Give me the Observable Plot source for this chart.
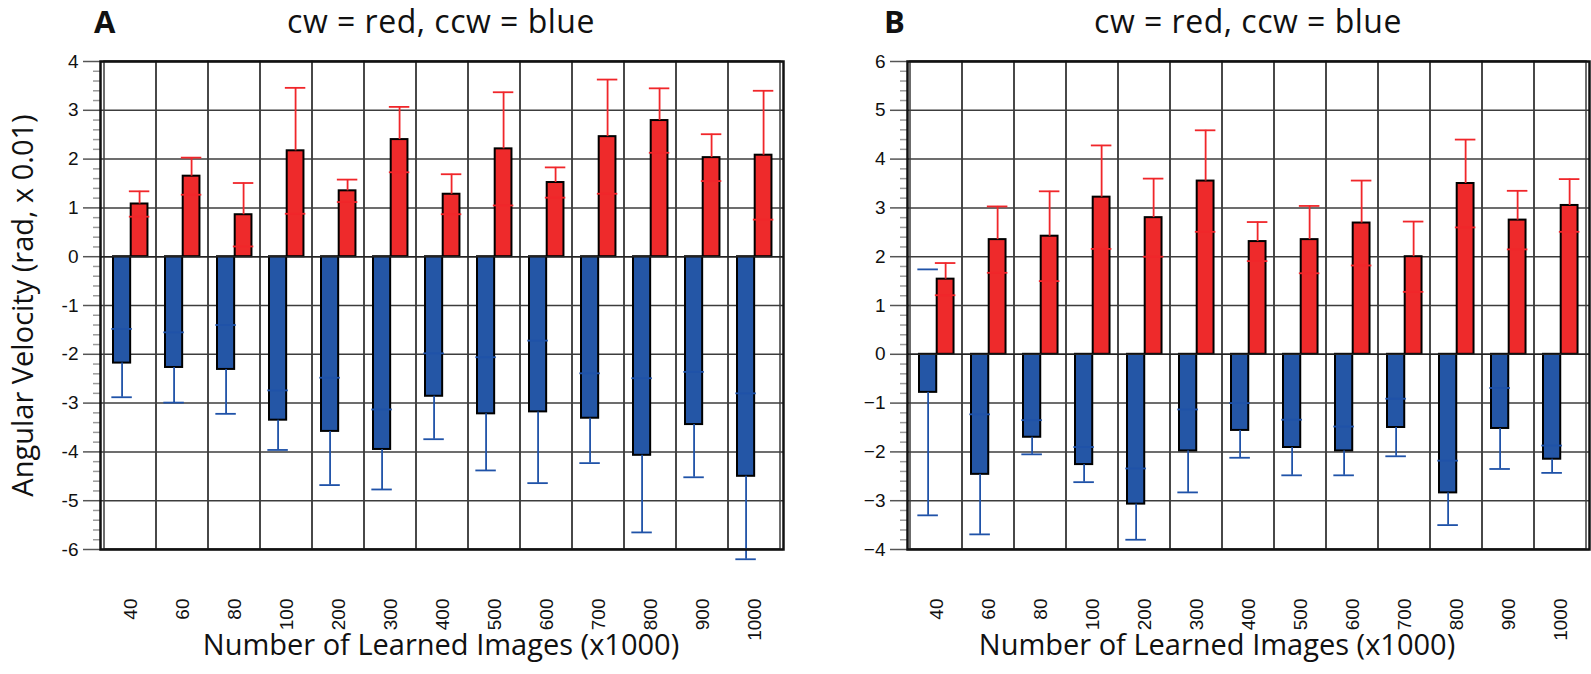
<!DOCTYPE html>
<html>
<head>
<meta charset="utf-8">
<script src="https://cdn.jsdelivr.net/npm/d3@7"></script>
<script src="https://cdn.jsdelivr.net/npm/@observablehq/plot@0.6"></script>
<style>
  body { margin: 0; background: #fff; }
  #wrap { position: relative; width: 1591px; height: 674px; overflow: hidden; background: #fff; }
  .panel { position: absolute; top: 0; }
  .txt { position: absolute; font-family: "Open Sans", "Noto Sans", sans-serif; font-size: 29px; line-height: 29px; white-space: nowrap; color: #111; }
  .letter { font-weight: bold; font-size: 31px; line-height: 31px; }
  .head { font-size: 32px; line-height: 32px; letter-spacing: 0.5px; }
  .center { text-align: center; }
  .rot { transform: rotate(-90deg); transform-origin: 50% 50%; }
</style>
</head>
<body>
<div id="wrap"></div>
<script>
// ---------------- data ----------------
const categories = ["40","60","80","100","200","300","400","500","600","700","800","900","1000"];

// Panel A (mean, SD)
const cwA     = [1.08, 1.65, 0.86, 2.17, 1.35, 2.40, 1.28, 2.21, 1.52, 2.46, 2.79, 2.03, 2.08];
const cwA_sd  = [0.26, 0.38, 0.65, 1.29, 0.23, 0.67, 0.41, 1.16, 0.31, 1.17, 0.66, 0.48, 1.32];
const ccwA    = [-2.18, -2.27, -2.31, -3.35, -3.58, -3.95, -2.86, -3.22, -3.18, -3.31, -4.07, -3.44, -4.50];
const ccwA_sd = [0.70, 0.72, 0.91, 0.61, 1.10, 0.82, 0.88, 1.16, 1.46, 0.92, 1.58, 1.08, 1.70];

// Panel B (mean, SD)
const cwB     = [1.54, 2.35, 2.42, 3.22, 2.80, 3.55, 2.31, 2.35, 2.69, 2.00, 3.50, 2.75, 3.05];
const cwB_sd  = [0.33, 0.68, 0.92, 1.06, 0.80, 1.04, 0.40, 0.69, 0.87, 0.72, 0.90, 0.60, 0.54];
const ccwB    = [-0.78, -2.46, -1.70, -2.26, -3.07, -1.98, -1.56, -1.91, -1.98, -1.50, -2.84, -1.52, -2.15];
const ccwB_sd = [2.52, 1.23, 0.35, 0.36, 0.73, 0.85, 0.56, 0.57, 0.50, 0.59, 0.66, 0.83, 0.28];

const yTicksA = [-6, -5, -4, -3, -2, -1, 0, 1, 2, 3, 4];
const yTicksB = [-4, -3, -2, -1, 0, 1, 2, 3, 4, 5, 6];

const titleText = "cw = red, ccw = blue";
const xTitle = "Number of Learned Images (x1000)";
const yTitle = "Angular Velocity (rad, x 0.01)";

// ---------------- drawing ----------------
const RED = "#EE2A2B", BLUE = "#2456A6", RED_ERR = "#F0262A", BLUE_ERR = "#1F52A8";
const GRID = "#3c3c3c";

function minorTicks(lo, hi) {
  const out = [];
  for (let k = Math.round(lo * 5); k <= Math.round(hi * 5); k++) if (k % 5 !== 0) out.push(k / 5);
  return out;
}

function makePanel(cw, cwSd, ccw, ccwSd, yTicks, opt) {
  const rows = categories.map((c, i) => ({cat: c, cw: cw[i], cwSd: cwSd[i], ccw: ccw[i], ccwSd: ccwSd[i]}));
  const bw = (opt.width - opt.marginLeft - opt.marginRight) / categories.length;
  const bL = 9, bM = 26.7, bR = 44;          // bar edges within a band (px)
  const blueC = (bL + bM) / 2, redC = (bM + bR) / 2, capHalf = 10.5;
  const lo = d3.min(yTicks), hi = d3.max(yTicks);
  return Plot.plot({
    width: opt.width,
    height: 674,
    marginLeft: opt.marginLeft,
    marginRight: opt.marginRight,
    marginTop: 61,
    marginBottom: 125,
    x: {type: "band", domain: categories, padding: 0},
    y: {domain: [lo, hi]},
    style: {fontFamily: "'Liberation Sans', Arial, sans-serif", fontSize: "19px", color: "#111", overflow: "visible", background: "transparent"},
    marks: [
      Plot.cell(categories, {x: d => d, fill: "none", stroke: GRID, strokeWidth: 1.5}),
      Plot.gridY({ticks: yTicks, stroke: GRID, strokeOpacity: 1, strokeWidth: 1.5}),
      Plot.axisY({ticks: minorTicks(lo, hi), tickSize: 7, tickFormat: () => "", stroke: "#9a9a9a", strokeWidth: 1.5, label: null}),
      Plot.axisY({ticks: yTicks, tickSize: 17, tickPadding: 5, tickFormat: opt.yFormat, stroke: "#555", strokeWidth: 1.5, label: null}),
      Plot.axisX({tickRotate: -90, textAnchor: "end", lineAnchor: "middle", tickSize: 0, tickPadding: 49, label: null}),
      // bars
      Plot.barY(rows, {x: "cat", y: "ccw", fill: BLUE, stroke: "#000", strokeWidth: 2, insetLeft: bL, insetRight: bw - bM}),
      Plot.barY(rows, {x: "cat", y: "cw", fill: RED, stroke: "#000", strokeWidth: 2, insetLeft: bM, insetRight: bw - bR}),
      // error bars (ccw)
      Plot.ruleX(rows, {x: "cat", y1: "ccw", y2: d => d.ccw - d.ccwSd, dx: blueC - bw / 2, stroke: BLUE_ERR, strokeWidth: 1.8}),
      Plot.tickY(rows, {x: "cat", y: d => d.ccw - d.ccwSd, insetLeft: blueC - capHalf, insetRight: bw - blueC - capHalf, stroke: BLUE_ERR, strokeWidth: 1.8}),
      Plot.tickY(rows, {x: "cat", y: d => d.ccw + d.ccwSd, insetLeft: blueC - capHalf, insetRight: bw - blueC - capHalf, stroke: BLUE_ERR, strokeWidth: 1.8}),
      // error bars (cw)
      Plot.ruleX(rows, {x: "cat", y1: "cw", y2: d => d.cw + d.cwSd, dx: redC - bw / 2, stroke: RED_ERR, strokeWidth: 1.8}),
      Plot.tickY(rows, {x: "cat", y: d => d.cw + d.cwSd, insetLeft: redC - capHalf, insetRight: bw - redC - capHalf, stroke: RED_ERR, strokeWidth: 1.8}),
      Plot.tickY(rows, {x: "cat", y: d => d.cw - d.cwSd, insetLeft: redC - capHalf, insetRight: bw - redC - capHalf, stroke: RED_ERR, strokeWidth: 1.8}),
      Plot.ruleY([0], {stroke: "#222", strokeWidth: 1.6}),
      Plot.frame({stroke: "#111", strokeWidth: 2.5})
    ]
  });
}

const wrap = document.getElementById("wrap");

function addPanel(left, svg) {
  const d = document.createElement("div");
  d.className = "panel";
  d.style.left = left + "px";
  d.appendChild(svg);
  wrap.appendChild(d);
}
function addText(text, cls, css) {
  const d = document.createElement("div");
  d.className = "txt " + cls;
  d.textContent = text;
  Object.assign(d.style, css);
  wrap.appendChild(d);
}

addPanel(0, makePanel(cwA, cwA_sd, ccwA, ccwA_sd, yTicksA, {width: 795, marginLeft: 100, marginRight: 12, yFormat: d => String(d)}));
addPanel(795, makePanel(cwB, cwB_sd, ccwB, ccwB_sd, yTicksB, {width: 796, marginLeft: 112, marginRight: 2, yFormat: undefined}));

// panel letters and titles
addText("A", "letter", {left: "94px", top: "6px"});
addText("B", "letter", {left: "884px", top: "6px"});
addText(titleText, "center head", {left: "241px", width: "400px", top: "5px"});
addText(titleText, "center head", {left: "1048px", width: "400px", top: "5px"});
// axis titles
addText(xTitle, "center", {left: "191px", width: "500px", top: "629px"});
addText(xTitle, "center", {left: "967px", width: "500px", top: "629px"});
addText(yTitle, "center rot", {left: "-229px", width: "500px", top: "291px"});
</script>
</body>
</html>
